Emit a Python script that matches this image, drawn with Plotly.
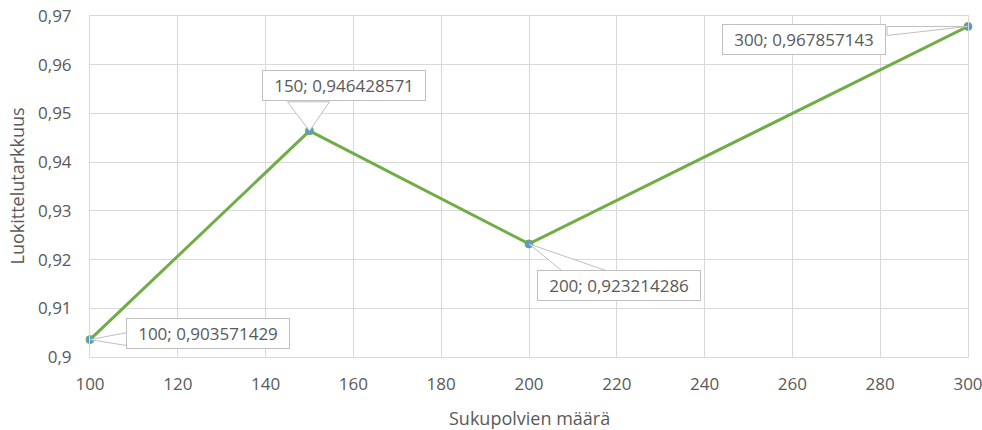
import plotly.graph_objects as go

generations = [100, 150, 200, 300]
accuracy = [0.903571429, 0.946428571, 0.923214286, 0.967857143]
x_ticks = [100, 120, 140, 160, 180, 200, 220, 240, 260, 280, 300]
y_ticks = [0.90, 0.91, 0.92, 0.93, 0.94, 0.95, 0.96, 0.97]
y_tick_labels = ["0,9", "0,91", "0,92", "0,93", "0,94", "0,95", "0,96", "0,97"]
x_title = "Sukupolvien määrä"
y_title = "Luokittelutarkkuus"

# label box centre offsets (pixels, y down) relative to the data point
label_offsets = [(118, -6), (34, -45), (90, 42), (-164, 13)]
# wedge base points relative to the point (pixels, y down)
wedge_bases = [
    [(37, -7), (37, 6)],
    [(-22, -29), (20, -29)],
    [(33, 27), (78, 27)],
    [(-81, 0), (-81, 9)],
]

GRID = "#D9D9D9"
TXT = "#595959"
FONT = "Open Sans, DejaVu Sans, sans-serif"

fig = go.Figure()
fig.add_trace(go.Scatter(
    x=generations, y=accuracy, mode="lines+markers",
    line=dict(color="#70AD47", width=3),
    marker=dict(color="#5B9BD5", size=8, line=dict(color="#70AD47", width=1)),
    hoverinfo="skip", cliponaxis=False,
))

shapes = []
annotations = []
for (xv, yv), (ax, ay), wb in zip(zip(generations, accuracy), label_offsets, wedge_bases):
    (x1, y1), (x2, y2) = wb
    path = f"M 0 0 L {x1} {-y1} L {x2} {-y2} Z"
    shapes.append(dict(
        type="path", xref="x", yref="y", xsizemode="pixel", ysizemode="pixel",
        xanchor=xv, yanchor=yv, path=path,
        fillcolor="white", line=dict(color="#BFBFBF", width=1), layer="above",
    ))
    label = f"{xv}; {yv:.9f}".replace(".", ",")
    annotations.append(dict(
        x=xv, y=yv, xref="x", yref="y", text=label, showarrow=True,
        arrowhead=0, arrowwidth=0.1, arrowcolor="rgba(0,0,0,0)",
        ax=ax, ay=ay, width=162, height=29, bgcolor="white",
        bordercolor="#BFBFBF", borderwidth=1, borderpad=0,
        font=dict(family=FONT, size=17, color=TXT),
    ))

annotations.append(dict(
    text=x_title, xref="paper", yref="paper", x=0.5, y=0, yshift=-61,
    xanchor="center", yanchor="middle", showarrow=False,
    font=dict(family=FONT, size=18, color=TXT),
))
annotations.append(dict(
    text=y_title, xref="paper", yref="paper", x=0, y=0.5, xshift=-74,
    xanchor="center", yanchor="middle", textangle=-90, showarrow=False,
    font=dict(family=FONT, size=18, color=TXT),
))

fig.update_layout(
    width=982, height=430,
    margin=dict(l=90, r=14, t=16, b=73),
    paper_bgcolor="white", plot_bgcolor="white",
    showlegend=False,
    separators=", ",
    font=dict(family=FONT, size=17, color=TXT),
    shapes=shapes, annotations=annotations,
    xaxis=dict(
        range=[100, 300], tickvals=x_ticks, showgrid=True, gridcolor=GRID, gridwidth=1,
        showline=True, linecolor=GRID, mirror=True, zeroline=False,
        ticks="outside", ticklen=12, tickcolor="rgba(0,0,0,0)",
        tickfont=dict(size=17, color=TXT), automargin=False,
        ticklabeloverflow="allow",
    ),
    yaxis=dict(
        range=[0.9, 0.97], tickvals=y_ticks, ticktext=y_tick_labels, showgrid=True,
        gridcolor=GRID, gridwidth=1, showline=True, linecolor=GRID, mirror=True,
        zeroline=False, ticks="outside", ticklen=14, tickcolor="rgba(0,0,0,0)",
        tickfont=dict(size=17, color=TXT), automargin=False,
        ticklabeloverflow="allow",
    ),
)

fig.write_html(
    "out.html",
    config={"displayModeBar": False},
    post_script="document.body.style.margin='0px';document.body.style.overflow='hidden';",
)
